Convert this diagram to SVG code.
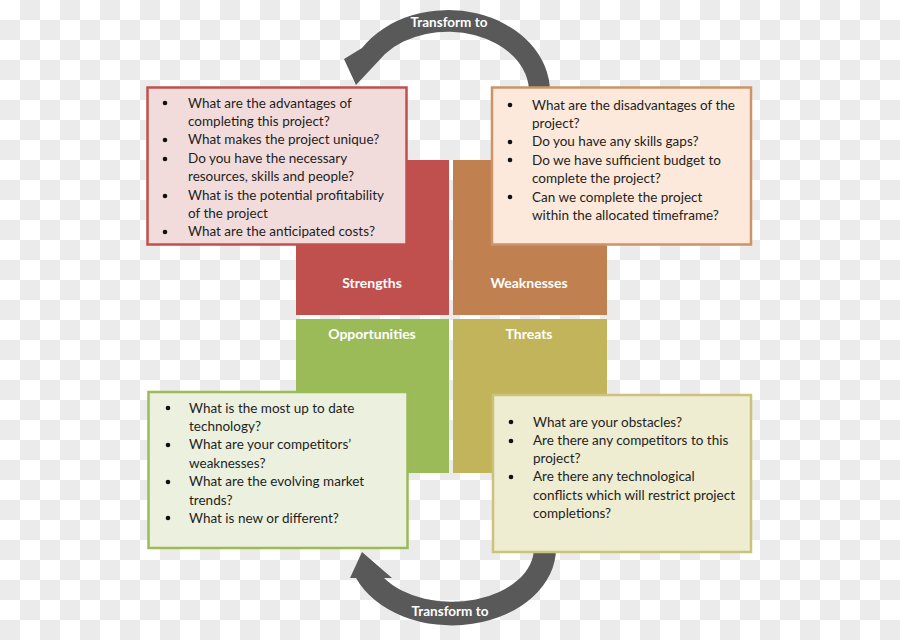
<svg xmlns="http://www.w3.org/2000/svg" width="900" height="640" viewBox="0 0 900 640">
<defs>
<pattern id="checker" width="40" height="40" patternUnits="userSpaceOnUse">
<rect width="40" height="40" fill="#ffffff"/>
<rect x="20" y="0" width="20" height="20" fill="#ebebeb"/>
<rect x="0" y="20" width="20" height="20" fill="#ebebeb"/>
</pattern>
<style>
.q{stroke:none}
.lbl{font-family:Lato,"Liberation Sans",sans-serif;font-weight:bold;font-size:14px;fill:#ffffff;text-anchor:middle}
.arrow{fill:#595959}
.arrowtxt{font-family:Lato,"Liberation Sans",sans-serif;font-weight:bold;font-size:13.5px;fill:#ffffff;text-anchor:middle}
.box{stroke-width:2.5}
.t{font-family:Lato,"Liberation Sans",sans-serif;font-size:13.5px;fill:#1e1e1e}
.b{fill:#111111}
</style>
</defs>
<rect width="900" height="640" fill="url(#checker)"/>

<g id="connectors">
<g id="transform-top">
<path class="arrow" d="M 550 96 L 550 92 A 102 82 0 0 0 362 48 L 344 59 L 356 85 L 385 54 A 81 60 0 0 1 529 92 L 529 96 Z"/>
<text class="arrowtxt" x="449" y="26.5">Transform to</text>
</g>
<g id="transform-bottom">
<path class="arrow" d="M 556 544 L 556 548 A 104 77 0 0 1 356 578 L 350 578 L 362 552 L 392 578 L 384 578 A 82 54 0 0 0 534 548 L 534 544 Z"/>
<text class="arrowtxt" x="450" y="615.5">Transform to</text>
</g>
</g>

<g id="strengths">
<rect class="q" x="296" y="160" width="153" height="155" fill="#c0504d"/>
<text class="lbl" x="372" y="288">Strengths</text>
</g>
<g id="weaknesses">
<rect class="q" x="453" y="160" width="154" height="155" fill="#c0804f"/>
<text class="lbl" x="529" y="288">Weaknesses</text>
</g>
<g id="opportunities">
<rect class="q" x="296" y="319" width="153" height="154" fill="#9bbb59"/>
<text class="lbl" x="372" y="339">Opportunities</text>
</g>
<g id="threats">
<rect class="q" x="453" y="319" width="154" height="154" fill="#c2b45a"/>
<text class="lbl" x="529" y="339">Threats</text>
</g>

<g id="strengths-box">
<rect class="box" x="147.5" y="87.5" width="259" height="157" fill="#f2dcdb" stroke="#c0504d"/>
<circle class="b" cx="165" cy="103" r="2.3"/>
<circle class="b" cx="165" cy="140" r="2.3"/>
<circle class="b" cx="165" cy="159" r="2.3"/>
<circle class="b" cx="165" cy="196" r="2.3"/>
<circle class="b" cx="165" cy="232" r="2.3"/>
<text class="t" x="188" y="107.5">What are the advantages of</text>
<text class="t" x="188" y="125.9">completing this project?</text>
<text class="t" x="188" y="144.3">What makes the project unique?</text>
<text class="t" x="188" y="162.7">Do you have the necessary</text>
<text class="t" x="188" y="181.1">resources, skills and people?</text>
<text class="t" x="188" y="199.5">What is the potential profitability</text>
<text class="t" x="188" y="217.9">of the project</text>
<text class="t" x="188" y="236.3">What are the anticipated costs?</text>
</g>

<g id="weaknesses-box">
<rect class="box" x="492" y="87.5" width="259" height="157" fill="#fce9db" stroke="#cc9466"/>
<circle class="b" cx="510" cy="105" r="2.3"/>
<circle class="b" cx="510" cy="142" r="2.3"/>
<circle class="b" cx="510" cy="160" r="2.3"/>
<circle class="b" cx="510" cy="197" r="2.3"/>
<text class="t" x="532" y="109.5">What are the disadvantages of the</text>
<text class="t" x="532" y="127.9">project?</text>
<text class="t" x="532" y="146.3">Do you have any skills gaps?</text>
<text class="t" x="532" y="164.7">Do we have sufficient budget to</text>
<text class="t" x="532" y="183.1">complete the project?</text>
<text class="t" x="532" y="201.5">Can we complete the project</text>
<text class="t" x="532" y="219.9">within the allocated timeframe?</text>
</g>

<g id="opportunities-box">
<rect class="box" x="148.5" y="392" width="259" height="156" fill="#ebf1de" stroke="#9bbb59"/>
<circle class="b" cx="168" cy="408" r="2.3"/>
<circle class="b" cx="168" cy="445" r="2.3"/>
<circle class="b" cx="168" cy="482" r="2.3"/>
<circle class="b" cx="168" cy="518" r="2.3"/>
<text class="t" x="189" y="412.5">What is the most up to date</text>
<text class="t" x="189" y="430.9">technology?</text>
<text class="t" x="189" y="449.3">What are your competitors’</text>
<text class="t" x="189" y="467.7">weaknesses?</text>
<text class="t" x="189" y="486.1">What are the evolving market</text>
<text class="t" x="189" y="504.5">trends?</text>
<text class="t" x="189" y="522.9">What is new or different?</text>
</g>

<g id="threats-box">
<rect class="box" x="493" y="395" width="258" height="157" fill="#eeecd1" stroke="#cbc27b"/>
<circle class="b" cx="511" cy="422" r="2.3"/>
<circle class="b" cx="511" cy="441" r="2.3"/>
<circle class="b" cx="511" cy="477" r="2.3"/>
<text class="t" x="533" y="426.5">What are your obstacles?</text>
<text class="t" x="533" y="444.8">Are there any competitors to this</text>
<text class="t" x="533" y="463.1">project?</text>
<text class="t" x="533" y="481.4">Are there any technological</text>
<text class="t" x="533" y="499.7">conflicts which will restrict project</text>
<text class="t" x="533" y="518">completions?</text>
</g>
</svg>
